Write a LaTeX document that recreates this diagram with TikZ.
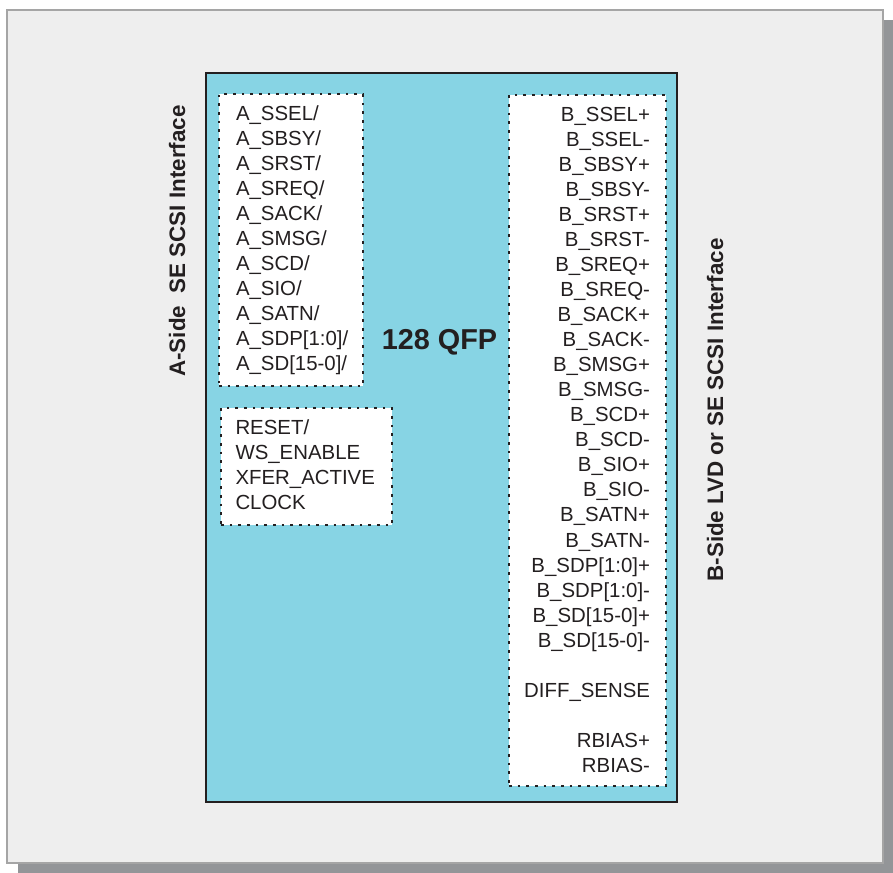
\documentclass[tikz,border=0pt]{standalone}
\usepackage{fontspec}
\setmainfont{Liberation Sans}
\newlength\pxu
\setlength\pxu{0.75pt}
\definecolor{ink}{HTML}{231F20}
\definecolor{chipblue}{HTML}{87D4E4}
\definecolor{panelgray}{HTML}{EEEEEE}
\definecolor{panelline}{HTML}{A5A5A5}
\definecolor{shadowgray}{HTML}{939598}
\begin{document}
\begin{tikzpicture}[x=0.75pt,y=-0.75pt,
  txt/.style={inner sep=0pt, outer sep=0pt, font=\fontsize{15.3}{18}\selectfont, text=ink},
  title/.style={inner sep=0pt, outer sep=0pt, font=\fontsize{21.6}{25}\selectfont\bfseries, text=ink},
  sidelabel/.style={inner sep=0pt, outer sep=0pt, rotate=90, font=\fontsize{16.8}{20}\selectfont\bfseries, text=ink},
  dotbox/.style={draw=ink, fill=white, line width=2.1pt, dash pattern=on 2.1pt off 4.4pt, inner sep=0pt, outer sep=0pt},
  panelbox/.style={draw=panelline, fill=panelgray, line width=1.5\pxu, inner sep=0pt, outer sep=0pt},
  chipbox/.style={draw=ink, fill=chipblue, line width=2.8\pxu, inner sep=0pt, outer sep=0pt}]
\useasboundingbox (0,0) rectangle (893,873);
% shadow and panel
\node[fill=shadowgray, inner sep=0pt, minimum width=875\pxu, minimum height=853\pxu] (shadow) at (455.5,446.5) {};
\node[panelbox, minimum width=876\pxu, minimum height=853\pxu] (panel) at (445,436.5) {};
% chip
\node[chipbox, minimum width=471\pxu, minimum height=729\pxu] (chip) at (441.5,437.5) {};
% dotted boxes
\node[dotbox, minimum width=144\pxu, minimum height=292\pxu] (boxA) at (291,240) {};
\node[dotbox, minimum width=171\pxu, minimum height=117\pxu] (boxR) at (306.5,466.5) {};
\node[dotbox, minimum width=157\pxu, minimum height=691\pxu] (boxB) at (587.5,440.5) {};
% A-side signals
\foreach \t [count=\i] in {{A\_SSEL/},{A\_SBSY/},{A\_SRST/},{A\_SREQ/},{A\_SACK/},{A\_SMSG/},{A\_SCD/},{A\_SIO/},{A\_SATN/},{A\_SDP[1:0]/},{A\_SD[15-0]/}}
  \node[txt, anchor=base west] (a\i) at (236,{121+25*(\i-1)}) {\t};
% control signals
\foreach \t [count=\i] in {{RESET/},{WS\_ENABLE},{XFER\_ACTIVE},{CLOCK}}
  \node[txt, anchor=base west] (r\i) at (235.5,{435+25*(\i-1)}) {\t};
% B-side signals
\foreach \t [count=\i] in {{B\_SSEL+},{B\_SSEL-},{B\_SBSY+},{B\_SBSY-},{B\_SRST+},{B\_SRST-},{B\_SREQ+},{B\_SREQ-},{B\_SACK+},{B\_SACK-},{B\_SMSG+},{B\_SMSG-},{B\_SCD+},{B\_SCD-},{B\_SIO+},{B\_SIO-},{B\_SATN+},{B\_SATN-},{B\_SDP[1:0]+},{B\_SDP[1:0]-},{B\_SD[15-0]+},{B\_SD[15-0]-}}
  \node[txt, anchor=base east] (b\i) at (650,{122+25*(\i-1)}) {\t};
\node[txt, anchor=base east] (diff) at (650,697) {DIFF\_SENSE};
\node[txt, anchor=base east] (rbp) at (650,747) {RBIAS+};
\node[txt, anchor=base east] (rbm) at (650,772) {RBIAS-};
% title
\node[title, anchor=base] (qfp) at (439.5,350) {128 QFP};
% side labels
\node[sidelabel, anchor=base] (alabel) at (185,241) {A-Side\ \ SE SCSI Interface};
\node[sidelabel, anchor=base] (blabel) at (723,410) {B-Side LVD or SE SCSI Interface};
\end{tikzpicture}
\end{document}
